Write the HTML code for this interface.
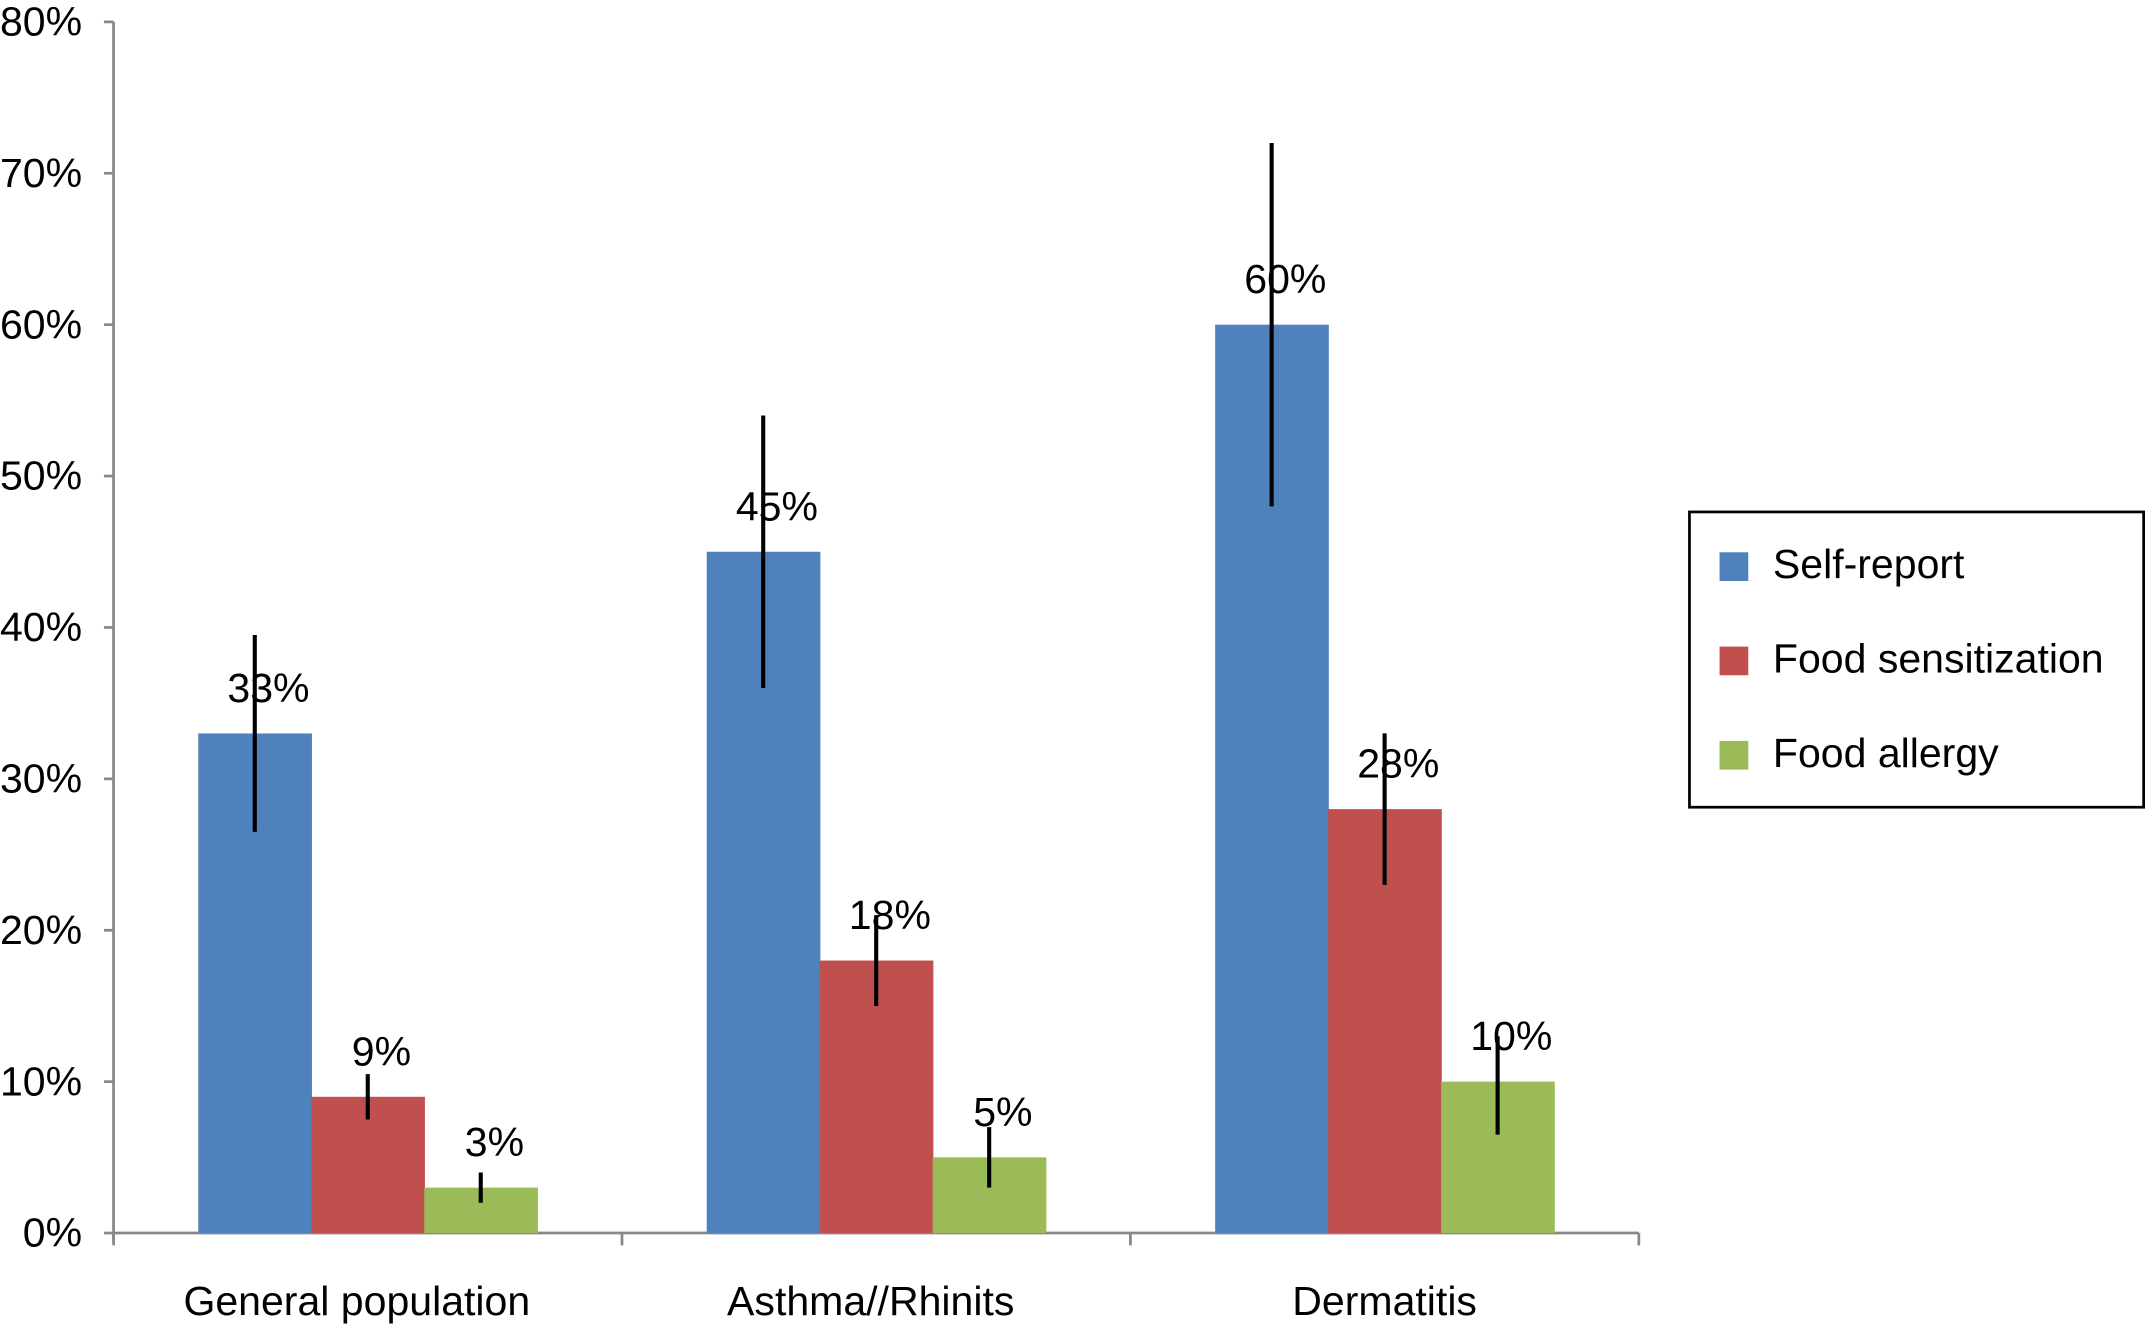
<!DOCTYPE html>
<html><head><meta charset="utf-8"><style>
html,body{margin:0;padding:0;background:#fff;}
svg{display:block;font-family:"Liberation Sans",Arial,sans-serif;}
</style></head><body>
<svg id="chart" width="2145" height="1326" viewBox="0 0 1568 970" preserveAspectRatio="none" xmlns="http://www.w3.org/2000/svg">
<g id="axes"></g><g id="bars"></g>
<g>
<rect x="1235" y="374.5" width="332" height="216" fill="#fff" stroke="#000" stroke-width="2"/>
<rect x="1257" y="404" width="21" height="21" fill="#4f81bd"/>
<text x="1296" y="423" font-size="30">Self-report</text>
<rect x="1257" y="473" width="21" height="21" fill="#c0504d"/>
<text x="1296" y="492" font-size="30">Food sensitization</text>
<rect x="1257" y="542" width="21" height="21" fill="#9bbb59"/>
<text x="1296" y="561" font-size="30">Food allergy</text>
</g>
</svg>
<script>
const categories = ["General population","Asthma//Rhinits","Dermatitis"];
const seriesNames = ["Self-report","Food sensitization","Food allergy"];
const selfReport = [33,45,60];
const foodSensitization = [9,18,28];
const foodAllergy = [3,5,10];
const errLow = [[26.5,36,48],[7.5,15,23],[2,3,6.5]];
const errHigh = [[39.5,54,72],[10.5,21,33],[4,7,13]];
const valueLabels = [["33%","45%","60%"],["9%","18%","28%"],["3%","5%","10%"]];
const yTicks = [0,10,20,30,40,50,60,70,80];
const colors = ["#4f81bd","#c0504d","#9bbb59"];
const series = [selfReport, foodSensitization, foodAllergy];

const NS="http://www.w3.org/2000/svg";
const x0=83, x1=1198, yTop=16, yBot=902;
const y=v=>yBot-(v/80)*(yBot-yTop);
const catW=(x1-x0)/categories.length, barW=catW/4.5;
const barX=(c,s)=>x0+c*catW+0.75*barW+s*barW;
function mk(tag,attrs,parent){const e=document.createElementNS(NS,tag);for(const k in attrs)e.setAttribute(k,attrs[k]);parent.appendChild(e);return e;}
const axes=document.getElementById('axes'), bars=document.getElementById('bars');
let l=mk('line',{x1:x0,y1:yTop,x2:x0,y2:yBot+6,stroke:'#888','stroke-width':2},axes);


l=mk('line',{x1:x0,y1:yBot,x2:x1,y2:yBot,stroke:'#888','stroke-width':2},axes);


yTicks.forEach(t=>{
  mk('line',{x1:x0-7,y1:y(t),x2:x0,y2:y(t),stroke:'#888','stroke-width':2},axes);
  const tx=mk('text',{x:60,y:y(t)+10,'font-size':30,'text-anchor':'end'},axes);
  tx.textContent=t+'%';
  
  
});
for(let c=0;c<=categories.length;c++){
  mk('line',{x1:x0+c*catW,y1:yBot,x2:x0+c*catW,y2:yBot+9,stroke:'#888','stroke-width':2},axes);
}
categories.forEach((name,c)=>{
  const tx=mk('text',{x:x0+(c+0.5)*catW-8+4*c,y:962,'font-size':30,'text-anchor':'middle'},axes);
  tx.textContent=name;
  
  
  series.forEach((vals,s)=>{
    const bx=barX(c,s), v=vals[c];
    const r=mk('rect',{x:bx,y:y(v),width:barW+0.5,height:yBot-y(v),fill:colors[s]},bars);
    
    
    const cx=bx+barW/2;
    const tl=mk('text',{x:cx+10,y:y(v)-23,'font-size':30,'text-anchor':'middle'},bars);
    tl.textContent=valueLabels[s][c];
    
    
    const e=mk('line',{x1:cx,y1:y(errLow[s][c]),x2:cx,y2:y(errHigh[s][c]),stroke:'#000','stroke-width':3},bars);
    
    
  });
});
</script>
</body></html>
